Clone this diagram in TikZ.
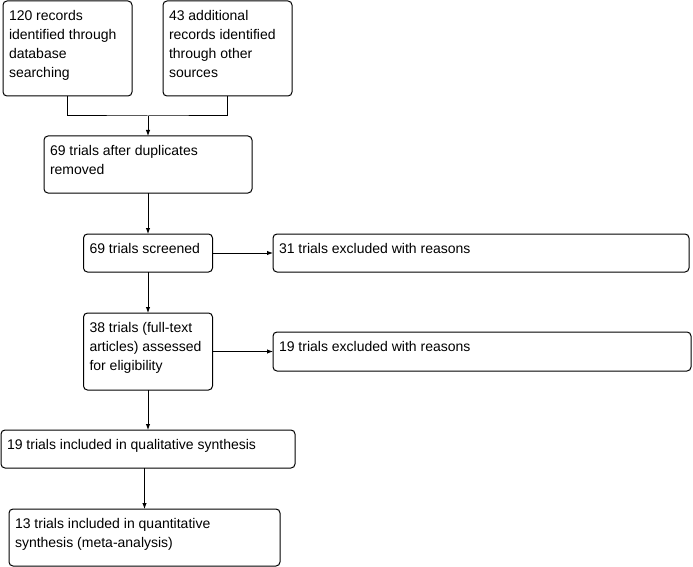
\documentclass[tikz,border=0pt]{standalone}
\usepackage{fontspec}
\setmainfont{Liberation Sans}
\usetikzlibrary{arrows.meta}
\newcommand\bx[3]{\parbox[t][#2][t]{#1}{\fontsize{14pt}{19pt}\selectfont\raggedright\leftskip=6pt\rule{0pt}{19.5pt}#3}}
\tikzset{
  box/.style={draw, line width=1pt, rounded corners=4pt, inner sep=0pt, outer sep=0pt, anchor=north west},
  link/.style={line width=1pt},
  arr/.style={line width=1pt, -{Latex[length=6pt,width=4.5pt]}}
}
\begin{document}
\begin{tikzpicture}[x=1pt,y=1pt]
\useasboundingbox (0,0) rectangle (693,-567);
\node[box] (a) at (3,-1) {\bx{129pt}{95pt}{120 records\\identified through\\database\\searching}};
\node[box] (b) at (163,-1) {\bx{129pt}{95pt}{43 additional\\records identified\\through other\\sources}};
\node[box] (c) at (44,-136) {\bx{208pt}{57pt}{69 trials after duplicates\\removed}};
\node[box] (d) at (83.5,-234) {\bx{129pt}{38pt}{69 trials screened}};
\node[box] (e) at (273,-234) {\bx{416pt}{38pt}{31 trials excluded with reasons}};
\node[box] (f) at (83.5,-313) {\bx{129pt}{77pt}{38 trials (full-text\\articles) assessed\\for eligibility}};
\node[box] (g) at (273,-332) {\bx{418pt}{39pt}{19 trials excluded with reasons}};
\node[box] (h) at (1,-430) {\bx{294pt}{38pt}{19 trials included in qualitative synthesis}};
\node[box] (i) at (9,-509) {\bx{271pt}{57pt}{13 trials included in quantitative\\synthesis (meta-analysis)}};
\coordinate (j) at (148,-116);
\draw[link] (a.south) |- (j) -| (b.south);
\draw[arr] (j) -- (c.north);
\draw[arr] (c.south) -- (d.north);
\draw[arr] (d.east) -- (e.west);
\draw[arr] (d.south) -- (f.north);
\draw[arr] (f.east) -- (g.west);
\draw[arr] (f.south) -- (h.north);
\draw[arr] (h.south -| i.north) -- (i.north);
\end{tikzpicture}
\end{document}
